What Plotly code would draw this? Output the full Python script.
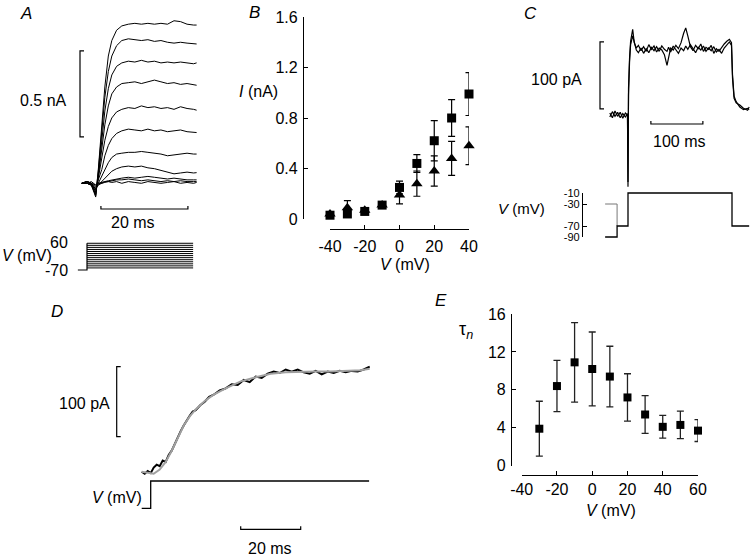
import plotly.graph_objects as go

W, H = 750, 560
FONT = "Liberation Sans, Arial, Helvetica, sans-serif"

# ---------------- panel A: current family (nA) vs time (ms) ----------------
A_T = [-1.2, 0.0, 1.0, 2.0, 2.6, 3.4, 4.1, 4.9, 5.7, 6.8, 8.0, 9.5, 11.0,
       12.5, 14.0, 15.5, 17.0, 18.5, 20.0, 21.5, 23.0, 24.5, 25.2]
A_I_P60 = [0.0, 0.01, -0.01, -0.08, 0.08, 0.33, 0.56, 0.74, 0.83, 0.89, 0.915, 0.925,
           0.93, 0.925, 0.93, 0.925, 0.93, 0.925, 0.945, 0.94, 0.925, 0.92, 0.92]
A_I_P50 = [0.0, 0.0, -0.01, -0.07, 0.07, 0.30, 0.50, 0.65, 0.74, 0.80, 0.83, 0.84,
           0.835, 0.83, 0.835, 0.825, 0.83, 0.82, 0.815, 0.82, 0.815, 0.81, 0.81]
A_I_P40 = [0.0, 0.01, 0.0, -0.07, 0.05, 0.25, 0.42, 0.55, 0.63, 0.68, 0.70, 0.71,
           0.705, 0.715, 0.705, 0.71, 0.70, 0.705, 0.70, 0.705, 0.70, 0.695, 0.70]
A_I_P30 = [0.0, 0.0, -0.01, -0.06, 0.04, 0.20, 0.34, 0.45, 0.52, 0.56, 0.58, 0.585,
           0.59, 0.58, 0.59, 0.60, 0.59, 0.58, 0.585, 0.575, 0.58, 0.575, 0.57]
A_I_P20 = [0.0, 0.01, 0.0, -0.05, 0.03, 0.14, 0.25, 0.33, 0.38, 0.415, 0.43, 0.44,
           0.435, 0.45, 0.44, 0.445, 0.435, 0.44, 0.43, 0.445, 0.435, 0.43, 0.425]
A_I_P10 = [0.0, 0.0, -0.01, -0.04, 0.02, 0.08, 0.16, 0.22, 0.26, 0.29, 0.305, 0.315,
           0.31, 0.305, 0.315, 0.305, 0.31, 0.30, 0.305, 0.31, 0.30, 0.295, 0.295]
A_I_0 = [0.0, 0.01, 0.0, -0.03, 0.0, 0.04, 0.08, 0.12, 0.15, 0.17, 0.175, 0.18,
         0.18, 0.185, 0.18, 0.175, 0.17, 0.16, 0.165, 0.17, 0.175, 0.17, 0.17]
A_I_M10 = [0.0, 0.0, -0.01, -0.03, -0.01, 0.01, 0.03, 0.05, 0.07, 0.085, 0.095, 0.10,
           0.095, 0.10, 0.09, 0.085, 0.075, 0.065, 0.055, 0.06, 0.065, 0.06, 0.062]
A_I_M20 = [0.0, 0.01, 0.0, -0.02, -0.01, 0.0, 0.01, 0.015, 0.02, 0.025, 0.03, 0.035,
           0.03, 0.035, 0.04, 0.035, 0.03, 0.025, 0.03, 0.025, 0.02, 0.02, 0.02]
A_I_M30 = [0.0, 0.0, 0.01, -0.01, 0.0, 0.005, 0.01, 0.01, 0.015, 0.02, 0.02, 0.025,
           0.02, 0.015, 0.02, 0.015, 0.01, 0.015, 0.01, 0.015, 0.01, 0.01, 0.01]
A_I_M40 = [0.0, 0.01, 0.0, -0.01, 0.0, 0.0, 0.005, 0.01, 0.005, 0.01, 0.0, 0.01,
           0.005, 0.0, 0.01, 0.005, 0.0, 0.005, 0.01, 0.0, 0.005, 0.0, 0.005]
A_TRACES = [A_I_P60, A_I_P50, A_I_P40, A_I_P30, A_I_P20, A_I_P10,
            A_I_0, A_I_M10, A_I_M20, A_I_M30, A_I_M40]
A_HOLD = -70
A_LEVELS = [-60, -50, -40, -30, -20, -10, 0, 10, 20, 30, 40, 50, 60]
A_HOLD_START = -2.1
A_STEP_END = 24.4

# ---------------- panel B: I-V (nA vs mV) ----------------
B_V = [-40, -30, -20, -10, 0, 10, 20, 30, 40]
B_SQ = [0.03, 0.04, 0.06, 0.11, 0.25, 0.44, 0.62, 0.80, 0.99]
B_SQ_ERR = [0.01, 0.02, 0.02, 0.02, 0.05, 0.07, 0.16, 0.145, 0.17]
B_TRI = [0.04, 0.09, 0.07, 0.11, 0.19, 0.28, 0.38, 0.48, 0.58]
B_TRI_ERR = [0.01, 0.055, 0.02, 0.02, 0.07, 0.10, 0.12, 0.135, 0.15]
B_XTICKS = [-40, -20, 0, 20, 40]
B_YTICKS = [0, 0.4, 0.8, 1.2, 1.6]

# ---------------- panel C: current (pA) vs time (ms) ----------------
C_T = [-35, -30, -25, -20, -15, -10, -5, -1, 0, 1, 3, 5, 9, 12, 16, 20,
       25, 30, 35, 40, 45, 50, 55, 60, 65, 70, 75, 78, 82, 87, 92, 97,
       102, 107, 111, 115, 120, 125, 130, 135, 140, 145, 150, 155, 160, 165, 170, 175,
       180, 185, 190, 195, 199, 201, 204, 208, 215, 222, 230, 233]
C_I1 = [3, -4, 6, -2, 4, -5, 3, 0, -107, 40, 85, 110, 128, 108, 100, 104,
        96, 102, 95, 105, 98, 103, 94, 100, 97, 90, 74, 88, 100, 97, 104, 99,
        108, 122, 130, 118, 102, 96, 104, 99, 106, 95, 101, 98, 104, 92, 99, 95,
        101, 106, 110, 113, 108, 60, 28, 20, 12, 8, 10, 8]
C_I2 = [-3, 5, -2, 4, -4, 2, -3, 2, -100, 30, 80, 105, 118, 110, 97, 93,
        100, 92, 99, 93, 101, 96, 102, 95, 103, 98, 95, 101, 94, 103, 97, 92,
        100, 96, 103, 98, 105, 99, 93, 101, 97, 103, 95, 100, 96, 102, 94, 98,
        92, 100, 104, 109, 104, 55, 25, 18, 15, 10, 7, 12]
C_V_T1 = [-44, -21, -21, 0, 0, 200, 200, 233]
C_V1 = [-90, -90, -70, -70, -10, -10, -70, -70]
C_V_T2 = [-44, -21, -21]
C_V2 = [-30, -30, -70]
C_V_TICKS = [-10, -30, -70, -90]

# ---------------- panel D: current (pA) vs time (ms), data + fit ----------------
D_T = [-3, -2, -1, 0, 1, 2, 3, 4, 5, 6, 7, 8, 9, 10, 11, 12, 13, 14, 15,
       16.5, 18, 19.5, 21, 23, 25, 27, 29, 31, 33, 35, 37, 39, 41, 43, 45,
       47, 49, 51, 53, 55, 57, 59, 61, 63, 65, 67, 69, 71, 73]
D_I = [0, -3, 1, -2, 6, 10, 8, 16, 14, 24, 30, 40, 48, 58, 66, 74, 80, 86, 88,
       95, 100, 107, 110, 116, 119, 125, 124, 131, 128, 136, 134, 140, 143, 141, 146,
       143, 146, 142, 140, 144, 139, 143, 141, 144, 142, 144, 143, 146, 150]
D_FIT_T = [-3, -1, 1, 3, 5, 7, 9, 11, 13, 15, 18, 21, 25, 30, 35, 40, 45, 50,
           55, 60, 65, 70, 73]
D_FIT = [0, -2, -3, 3, 14, 30, 48, 66, 79, 89, 101, 110, 119, 129, 135, 140, 142,
         143, 143, 143, 144, 145, 147]
D_V_T = [-3, 0, 0, 72.8]
D_V = [-70, -70, 30, 30]

# ---------------- panel E: tau_n vs V ----------------
E_V = [-30, -20, -10, 0, 10, 20, 30, 40, 50, 60]
E_TAU = [3.9, 8.4, 10.9, 10.2, 9.4, 7.2, 5.4, 4.1, 4.3, 3.7]
E_ERR = [2.9, 2.7, 4.2, 3.9, 3.2, 2.5, 2.0, 1.2, 1.45, 1.15]
E_XTICKS = [-40, -20, 0, 20, 40, 60]
E_YTICKS = [0, 4, 8, 12, 16]


def hx(a, b, zero, scale):
    # hidden x axis: pixel span a..b, data zero at pixel `zero`, `scale` px per unit
    return dict(domain=[a / W, b / W], range=[(a - zero) / scale, (b - zero) / scale],
                visible=False, fixedrange=True)


def hy(top, bottom, zero, scale):
    return dict(domain=[1 - bottom / H, 1 - top / H],
                range=[(zero - bottom) / scale, (zero - top) / scale],
                visible=False, fixedrange=True)


def txt(vals):
    # plain hyphen minus like the original figure
    return [("%g" % v) for v in vals]


def line(x, y, xa, ya, color="black", width=1.0):
    return go.Scatter(x=x, y=y, xaxis=xa, yaxis=ya, mode="lines",
                      line=dict(color=color, width=width), hoverinfo="skip")


fig = go.Figure()

# A
for tr in A_TRACES[::-1]:
    fig.add_trace(line(A_T, tr, "x", "y", width=1.0))
fig.add_trace(line([A_HOLD_START, 0, 0], [A_HOLD, A_HOLD, A_LEVELS[-1]], "x2", "y2", width=1.2))
for v in A_LEVELS:
    fig.add_trace(line([0, A_STEP_END], [v, v], "x2", "y2", width=1.0))

# B
err_style = dict(type="data", thickness=1.2, width=3.5, color="black")
fig.add_trace(go.Scatter(x=B_V, y=B_SQ, xaxis="x3", yaxis="y3", mode="markers",
                         marker=dict(symbol="square", size=9, color="black"),
                         error_y=dict(array=B_SQ_ERR, **err_style), cliponaxis=False))
fig.add_trace(go.Scatter(x=B_V, y=B_TRI, xaxis="x3", yaxis="y3", mode="markers",
                         marker=dict(symbol="triangle-up", size=10, color="black"),
                         error_y=dict(array=B_TRI_ERR, **err_style), cliponaxis=False))

# C
fig.add_trace(line(C_T, C_I2, "x4", "y4", width=1.2))
fig.add_trace(line(C_T, C_I1, "x4", "y4", width=1.2))
fig.add_trace(line(C_V_T2, C_V2, "x5", "y5", color="#777", width=1.0))
fig.add_trace(line(C_V_T1, C_V1, "x5", "y5", width=1.3))
fig.add_trace(go.Scatter(x=[None], y=[None], xaxis="x5", yaxis="y9", mode="lines",
                         hoverinfo="skip"))

# D
fig.add_trace(line(D_T, D_I, "x6", "y6", width=2.0))
fig.add_trace(line(D_FIT_T, D_FIT, "x6", "y6", color="#a0a0a0", width=2.0))
fig.add_trace(line(D_V_T, D_V, "x7", "y7", width=1.3))

# E
fig.add_trace(go.Scatter(x=E_V, y=E_TAU, xaxis="x8", yaxis="y8", mode="markers",
                         marker=dict(symbol="square", size=8, color="black"),
                         error_y=dict(array=E_ERR, type="data", thickness=1.3, width=3.5,
                                      color="#222"), cliponaxis=False))

vis_axis = dict(showline=True, linecolor="black", linewidth=1.2, ticks="inside",
                ticklen=4, tickcolor="black", tickwidth=1.2, showgrid=False,
                zeroline=False, fixedrange=True, automargin=False,
                tickfont=dict(size=16))

layout_axes = dict(
    xaxis=dict(hx(70, 200, 87, 4.35), anchor="y"),
    yaxis=dict(hy(15, 215, 183.3, 172), anchor="x"),
    xaxis2=dict(hx(70, 200, 87, 4.35), anchor="y2"),
    yaxis2=dict(hy(236, 276, 255.6, 0.2054), anchor="x2"),
    xaxis3=dict(vis_axis, domain=[330 / W, 469 / W], range=[-40, 40], anchor="free",
                position=1 - 229 / H, tickvals=B_XTICKS, ticktext=txt(B_XTICKS),
                ticklabelstandoff=3),
    yaxis3=dict(vis_axis, domain=[1 - 219 / H, 1 - 17 / H], range=[0, 1.6], anchor="free",
                position=303 / W, tickvals=B_YTICKS, ticktext=txt(B_YTICKS),
                ticklabelstandoff=2),
    xaxis4=dict(hx(580, 750, 628, 0.52), anchor="y4"),
    yaxis4=dict(hy(20, 192, 115, 0.67), anchor="x4"),
    xaxis5=dict(hx(580, 750, 628, 0.52), anchor="y5"),
    yaxis5=dict(hy(185, 245, 187.5, 0.55), anchor="x5"),
    yaxis9=dict(vis_axis, domain=[1 - 237 / H, 1 - 193 / H], range=[-90, -10],
                anchor="free", position=582 / W, tickvals=C_V_TICKS,
                ticktext=txt(C_V_TICKS), tickfont=dict(size=11), ticklabelstandoff=0),
    xaxis6=dict(hx(100, 375, 150.7, 3.0), anchor="y6"),
    yaxis6=dict(hy(355, 485, 471.7, 0.7), anchor="x6"),
    xaxis7=dict(hx(100, 375, 150.7, 3.0), anchor="y7"),
    yaxis7=dict(hy(476, 520, 489.2, 0.273), anchor="x7"),
    xaxis8=dict(vis_axis, domain=[521.7 / W, 698 / W], range=[-40, 60], anchor="free",
                position=1 - 475 / H, tickvals=E_XTICKS, ticktext=txt(E_XTICKS)),
    yaxis8=dict(vis_axis, domain=[1 - 465.7 / H, 1 - 314 / H], range=[0, 16], anchor="free",
                position=511 / W, tickvals=E_YTICKS, ticktext=txt(E_YTICKS),
                ticklabelstandoff=2),
)


def label(text, x, y, size=16, italic=False):
    if italic:
        text = "<i>" + text + "</i>"
    return dict(text=text, x=x / W, y=1 - y / H, xref="paper", yref="paper",
                showarrow=False, font=dict(size=size), xanchor="center", yanchor="middle")


VMV = "<i>V</i> (mV)"
annotations = [
    label("A", 26, 13, 17, True), label("B", 254, 12, 17, True),
    label("C", 530, 13, 17, True), label("D", 57, 311, 17, True),
    label("E", 441, 300, 17, True),
    label("0.5 nA", 43, 100), label("20 ms", 133, 223),
    label(VMV, 27, 256), label("60", 59, 242), label("-70", 56, 270),
    label("<i>I</i> (nA)", 258, 92), label(VMV, 405, 264),
    label("100 pA", 556, 80), label("100 ms", 679, 141), label(VMV, 521, 208, 15),
    label("100 pA", 84, 403), label(VMV, 117, 497), label("20 ms", 270, 548),
    label("τ<sub><i>n</i></sub>", 466, 330, 18), label(VMV, 611, 510),
]


def vbar(xpx, y0, y1, yref, tick=4):
    a, b = xpx / W, (xpx + tick) / W
    return dict(type="path", path=f"M {b},{y0} L {a},{y0} L {a},{y1} L {b},{y1}",
                xref="paper", yref=yref, line=dict(color="black", width=1.2))


def hbar(x0, x1, ypx, xref, tick=3):
    yb, yt = 1 - ypx / H, 1 - (ypx - tick) / H
    return dict(type="path", path=f"M {x0},{yt} L {x0},{yb} L {x1},{yb} L {x1},{yt}",
                xref=xref, yref="paper", line=dict(color="black", width=1.2))


shapes = [
    vbar(80, 0.27, 0.27 + 0.5, "y"), hbar(3.2, 3.2 + 20, 209, "x"),
    vbar(600, 9, 9 + 100, "y4"), hbar(44, 44 + 100, 124, "x4"),
    vbar(116.7, 50, 50 + 100, "y6"), hbar(30, 30 + 20, 529.3, "x6"),
]

fig.update_layout(
    width=W, height=H, margin=dict(l=0, r=0, t=0, b=0, pad=0),
    paper_bgcolor="white", plot_bgcolor="rgba(0,0,0,0)", showlegend=False,
    font=dict(family=FONT, size=16, color="black"),
    annotations=annotations, shapes=shapes, **layout_axes,
)

# the page body has a default 8px margin; drop it so the figure fills the window
fig.write_html("out.html", config={"displayModeBar": False},
               post_script="document.body.style.margin = '0';")
